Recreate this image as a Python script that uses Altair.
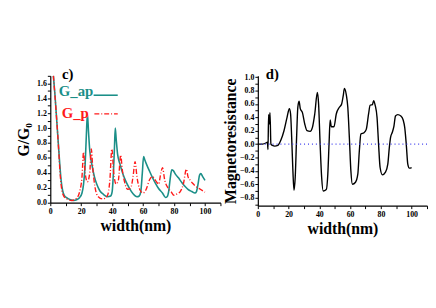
import altair as alt
import pandas as pd

# ---- data ----
gap_x = [2, 3, 4, 5, 6, 7, 8, 9, 11, 13, 15, 17, 19, 20.5, 21.5, 22.5, 23.3, 24, 24.7, 25.5,
         27, 28.5, 30, 32, 34.5, 37, 39, 40, 40.8, 41.5, 42, 42.6, 43.5, 45, 47, 49, 51, 53.5,
         56, 57.5, 58.5, 59.5, 60.3, 61, 62.5, 64, 66, 68, 70, 72.5, 74.5, 75.5, 76.5, 77.5,
         78.5, 79.5, 81, 83, 85, 87, 89, 91.5, 93.5, 94.5, 95.5, 96.5, 97.3, 98.5, 100]
gap_y = [1.70, 1.45, 1.15, 0.85, 0.55, 0.30, 0.16, 0.10, 0.06, 0.04, 0.03, 0.04, 0.07, 0.13,
         0.25, 0.50, 0.90, 1.19, 0.95, 0.70, 0.50, 0.35, 0.25, 0.16, 0.11, 0.08, 0.09, 0.15,
         0.40, 0.75, 1.00, 0.85, 0.65, 0.52, 0.38, 0.28, 0.20, 0.12, 0.08, 0.09, 0.15, 0.40,
         0.62, 0.58, 0.50, 0.43, 0.34, 0.26, 0.19, 0.13, 0.07, 0.08, 0.15, 0.32, 0.44, 0.43,
         0.38, 0.33, 0.27, 0.22, 0.18, 0.15, 0.13, 0.15, 0.25, 0.37, 0.39, 0.35, 0.30]

gp_x = [2, 3.5, 5, 6.5, 8, 10, 14, 17, 19, 20.5, 21.5, 22.5, 24, 25.5, 26.5, 27.5, 29, 31,
        34, 37, 38.5, 39.8, 41, 42.5, 44, 45.5, 46.5, 48, 50, 52, 53.5, 54.8, 56, 58, 60,
        62, 64, 66, 68, 70, 71.5, 72.5, 74, 76, 78, 80, 82, 84, 86, 88, 89, 90.5, 92, 94,
        97, 100]
gp_y = [1.70, 1.30, 0.85, 0.35, 0.12, 0.06, 0.03, 0.06, 0.15, 0.35, 0.68, 0.40, 0.28, 0.40,
        0.72, 0.45, 0.20, 0.08, 0.05, 0.10, 0.30, 0.72, 0.40, 0.25, 0.30, 0.64, 0.45, 0.28,
        0.18, 0.20, 0.35, 0.55, 0.35, 0.17, 0.13, 0.18, 0.30, 0.35, 0.30, 0.25, 0.40, 0.47,
        0.30, 0.20, 0.15, 0.10, 0.12, 0.15, 0.25, 0.45, 0.35, 0.30, 0.26, 0.22, 0.18, 0.14]

mr_x = [0, 3, 5.5, 6.2, 6.6, 7.0, 7.4, 7.9, 8.5, 9.5, 11, 13, 15, 17, 19, 20.5, 21.3, 22,
        22.8, 23.5, 24.3, 25.2, 26, 26.8, 27.6, 29, 30.5, 32, 34, 35.5, 37, 38.7, 39.5,
        40.5, 41.5, 42.5, 44.5, 45.5, 46.3, 47, 47.8, 49.5, 51, 53, 54.5, 55.5, 56.3, 57.5,
        58.5, 59.5, 60.5, 61.5, 63.5, 65, 66, 67, 69, 70.5, 72, 73, 74.5, 75.3, 76.3, 77.5,
        78.5, 79.5, 81, 83, 84.5, 85.5, 86.3, 87.5, 88.5, 89.5, 91, 93, 94.5, 95.5, 96.5,
        97.5, 98.5, 100]
mr_y = [0.0, 0.0, 0.02, 0.03, -0.08, 0.44, 0.30, 0.47, 0.0, -0.02, -0.03, -0.02, 0.06, 0.20,
        0.40, 0.53, 0.45, 0.10, -0.40, -0.69, -0.50, 0.10, 0.55, 0.64, 0.53, 0.47, 0.30,
        0.20, 0.19, 0.25, 0.45, 0.77, 0.60, 0.0, -0.50, -0.70, -0.68, -0.45, 0.0, 0.36,
        0.26, 0.26, 0.45, 0.55, 0.60, 0.72, 0.83, 0.74, 0.55, 0.10, -0.40, -0.60, -0.57,
        -0.45, -0.10, 0.15, 0.17, 0.22, 0.45, 0.58, 0.59, 0.65, 0.58, 0.40, 0.0, -0.35,
        -0.46, -0.42, -0.30, -0.05, 0.10, 0.18, 0.27, 0.42, 0.44, 0.42, 0.36, 0.25, 0.0,
        -0.30, -0.36, -0.35]

x_ticks = [0, 10, 20, 30, 40, 50, 60, 70, 80, 90, 100, 110]
left_y_ticks = [round(0.1 * i, 1) for i in range(0, 18)]
right_y_ticks = [round(-0.9 + 0.1 * i, 1) for i in range(0, 20)]

TEAL = "#1b8f88"
RED = "#ff1a1a"
FONT = "Liberation Serif"

df_ap = pd.DataFrame({"x": gap_x, "y": gap_y})
df_p = pd.DataFrame({"x": gp_x, "y": gp_y})
df_mr = pd.DataFrame({"x": mr_x, "y": mr_y})

x_label_expr = "datum.value % 20 == 0 ? format(datum.value, 'd') : ''"
y_label_expr = "abs(round(datum.value * 10)) % 2 == 0 ? format(datum.value, '.1f') : ''"

common = dict(tickSize=3, labelOverlap=False, labelBound=False, labelFlush=False)
ax_x = alt.Axis(values=x_ticks, labelExpr=x_label_expr, title="width(nm)",
                titleFontSize=16, titlePadding=2, labelPadding=2, **common)
ax_yl = alt.Axis(values=left_y_ticks, labelExpr=y_label_expr, title="G/G₀",
                 titleFontSize=16, titlePadding=5, labelPadding=1, **common)
ax_yr = alt.Axis(values=right_y_ticks, labelExpr=y_label_expr, title="Magnetoresistance",
                 titleFontSize=16, titlePadding=1, labelPadding=1, **common)

xs_left = alt.Scale(domain=[0, 110], nice=False)
ys_left = alt.Scale(domain=[0, 1.7], nice=False)
xs_right = alt.Scale(domain=[0, 110], nice=False)
ys_right = alt.Scale(domain=[-0.92, 1.02], nice=False)


def LX(v):
    return alt.datum(v, scale=xs_left, axis=ax_x, type="quantitative")


def LY(v):
    return alt.datum(v, scale=ys_left, axis=ax_yl, type="quantitative")


def RX(v):
    return alt.datum(v, scale=xs_right, axis=ax_x, type="quantitative")


def RY(v):
    return alt.datum(v, scale=ys_right, axis=ax_yr, type="quantitative")


lx = alt.X("x:Q", scale=xs_left, axis=ax_x)
ly = alt.Y("y:Q", scale=ys_left, axis=ax_yl)

ap_line = alt.Chart(df_ap).mark_line(color=TEAL, strokeWidth=1.6, interpolate="monotone").encode(
    x=lx, y=ly)
p_line = alt.Chart(df_p).mark_line(color=RED, strokeWidth=1.4, strokeDash=[5, 2, 1, 2],
                                   interpolate="monotone").encode(x=lx, y=ly)

lbl_c = alt.Chart().mark_text(text="c)", font=FONT, fontWeight="bold", fontSize=15,
                              align="left", baseline="middle", color="black").encode(
    x=LX(7.5), y=LY(1.72))
lbl_ap = alt.Chart().mark_text(text="G_ap", font=FONT, fontWeight="bold", fontSize=15,
                               align="left", baseline="middle", color=TEAL).encode(
    x=LX(5.5), y=LY(1.49))
lbl_p = alt.Chart().mark_text(text="G_p", font=FONT, fontWeight="bold", fontSize=15,
                              align="left", baseline="middle", color=RED).encode(
    x=LX(7.4), y=LY(1.20))
leg_ap = alt.Chart().mark_rule(color=TEAL, strokeWidth=1.6).encode(
    x=LX(28), x2=alt.datum(43.6), y=LY(1.44))
leg_p = alt.Chart().mark_rule(color=RED, strokeWidth=1.4, strokeDash=[5, 2, 1, 2]).encode(
    x=LX(28.5), x2=alt.datum(43.6), y=LY(1.19))

left = alt.layer(ap_line, p_line, leg_ap, leg_p, lbl_ap, lbl_p, lbl_c).properties(
    width=173, height=129)

rx = alt.X("x:Q", scale=xs_right, axis=ax_x)
ry = alt.Y("y:Q", scale=ys_right, axis=ax_yr)

mr_line = alt.Chart(df_mr).mark_line(color="black", strokeWidth=1.4, interpolate="monotone").encode(
    x=rx, y=ry)
zero_rule = alt.Chart().mark_rule(color="#3a3aee", strokeWidth=1.2, strokeDash=[1, 3]).encode(
    y=RY(0))
lbl_d = alt.Chart().mark_text(text="d)", font=FONT, fontWeight="bold", fontSize=15,
                              align="left", baseline="middle", color="black").encode(
    x=RX(5.2), y=RY(1.04))

right = alt.layer(mr_line, zero_rule, lbl_d).properties(width=172, height=132)

chart = alt.hconcat(left, right, spacing=1).properties(
    padding={"left": 8, "top": 58, "right": 0, "bottom": 5},
    background="white"
).configure_view(stroke=None).configure_axis(
    grid=False, domainColor="black", tickColor="black", domainWidth=1.2, tickWidth=1,
    labelFont=FONT, labelFontWeight="bold", labelFontSize=8, labelColor="black",
    titleFont=FONT, titleFontWeight="bold", titleColor="black", labelOverlap=False
)

chart.save("out.html", embed_options={"renderer": "svg", "actions": False})
